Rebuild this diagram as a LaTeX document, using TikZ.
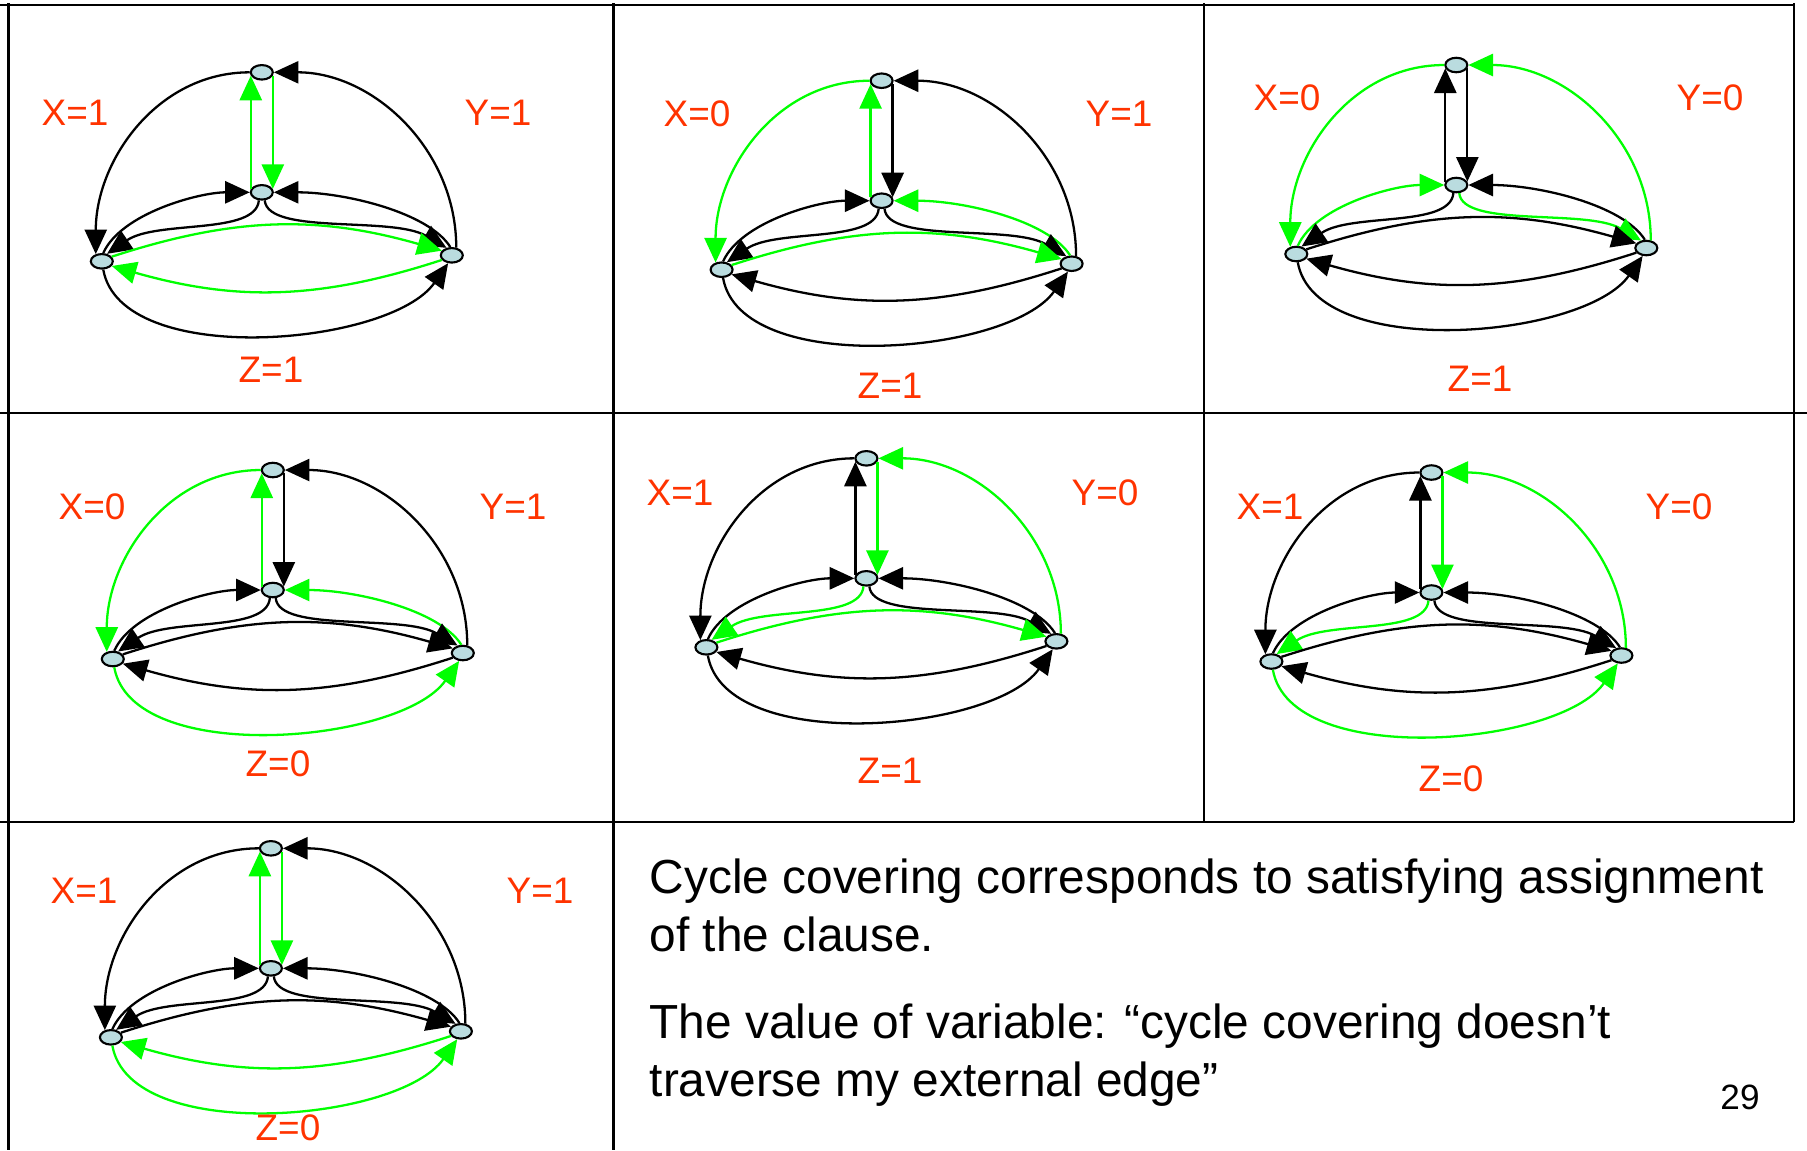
\documentclass[tikz,border=0pt]{standalone}
\usepackage{fontspec}
\setmainfont{Liberation Sans}
\usetikzlibrary{arrows.meta,shapes.geometric}
\definecolor{cover}{HTML}{00FF00}
\definecolor{vertfill}{HTML}{BADCDF}
\definecolor{valred}{HTML}{FF3300}

% every edge of the gadget is black unless a cell marks it as used
\tikzset{
  eTC/.style={}, eCT/.style={}, eTL/.style={}, eRT/.style={},
  eLC/.style={}, eCL/.style={}, eRC/.style={}, eCR/.style={},
  eLR/.style={}, eRL/.style={}, eLRz/.style={}
}

% #1 cell name, #2/#3 position of the top vertex, #4 edges of the cycle cover
\newcommand{\gadget}[4]{%
  \begin{scope}[shift={(#2,#3)}, #4]
    \node[vert] (T#1) at (0,0) {};
    \node[vert] (C#1) at (0,-120) {};
    \node[vert] (L#1) at (-160,-189) {};
    \node[vert] (R#1) at (190,-183) {};
    \draw[arrow, eTC] (T#1.-17) -- (C#1.17);
    \draw[arrow, eCT] (C#1.163) -- (T#1.-163);
    \draw[arrow, eTL] (T#1.west) to[out=180, in=90] (L#1.130);
    \draw[arrow, eRT] (R#1.60) to[out=90, in=0] (T#1.east);
    \draw[arrow, eLC] (L#1.80) .. controls +(18,40) and +(-50,0) .. (C#1.west);
    \draw[arrow, eCL] (C#1.250) .. controls +(-3,-35) and +(50,34) .. (L#1.55);
    \draw[arrow, eRC] (R#1.100) .. controls +(-22,35) and +(70,0) .. (C#1.east);
    \draw[arrow, eCR] (C#1.290) .. controls +(3,-35) and +(-55,32) .. (R#1.125);
    \draw[arrow, eLR] (L#1.25) to[bend left=17] (R#1.155);
    \draw[arrow, eRL] (R#1.205) to[bend left=17] (L#1.-25);
    \draw[arrow, eLRz] (L#1.-80) to[out=-80, in=-125, looseness=0.75] (R#1.-115);
  \end{scope}}

\begin{document}
\begin{tikzpicture}[
  x=0.01cm, y=0.01cm,
  vert/.style={ellipse, draw, fill=vertfill, line width=0.6pt, inner sep=0pt,
               minimum width=0.22cm, minimum height=0.145cm},
  arrow/.style={-{Triangle[length=7pt,width=6.3pt]}, line width=0.65pt},
  used/.style={cover},
  val/.style={text=valred, inner sep=0pt, font=\fontsize{10.5}{12}\selectfont},
  grid/.style={line width=0.7pt},
  txt/.style={anchor=base west, align=left, inner sep=0pt,
              font=\fontsize{13.6}{16.5}\selectfont}
]
\useasboundingbox (0,0) rectangle (1807,-1150);

% table lines
\draw[grid] (0,-5) -- (1794,-5);
\draw[grid] (0,-413) -- (1807,-413);
\draw[grid] (0,-822) -- (1794,-822);
\draw[grid] (8.5,-3) -- (8.5,-1150);
\draw[grid] (613.5,-3) -- (613.5,-1150);
\draw[grid] (1204,-3) -- (1204,-822);
\draw[grid] (1794,-3) -- (1794,-822);

% first row
\gadget{a}{261.8}{-72.3}{eTC/.style=used, eCT/.style=used, eLR/.style=used, eRL/.style=used}
\node[val] (xa) at (75,-113) {X=1};
\node[val] (ya) at (498,-113) {Y=1};
\node[val] (za) at (271,-370) {Z=1};

\gadget{b}{881.6}{-80.7}{eTL/.style=used, eLR/.style=used, eRC/.style=used, eCT/.style=used}
\node[val] (xb) at (697,-114) {X=0};
\node[val] (yb) at (1119,-114) {Y=1};
\node[val] (zb) at (890,-386) {Z=1};

\gadget{c}{1456.3}{-65}{eTL/.style=used, eLC/.style=used, eCR/.style=used, eRT/.style=used}
\node[val] (xc) at (1287,-98) {X=0};
\node[val] (yc) at (1710,-98) {Y=0};
\node[val] (zc) at (1480,-379) {Z=1};

% second row
\gadget{d}{272.8}{-470}{eTL/.style=used, eLRz/.style=used, eRC/.style=used, eCT/.style=used}
\node[val] (xd) at (92,-507) {X=0};
\node[val] (yd) at (513,-507) {Y=1};
\node[val] (zd) at (278,-764) {Z=0};

\gadget{e}{866.4}{-458.3}{eRT/.style=used, eTC/.style=used, eCL/.style=used, eLR/.style=used}
\node[val] (xe) at (680,-493) {X=1};
\node[val] (ye) at (1105,-493) {Y=0};
\node[val] (ze) at (890,-771) {Z=1};

\gadget{f}{1431.4}{-472.5}{eRT/.style=used, eTC/.style=used, eCL/.style=used, eLRz/.style=used}
\node[val] (xf) at (1270,-507) {X=1};
\node[val] (yf) at (1679,-507) {Y=0};
\node[val] (zf) at (1451,-779) {Z=0};

% third row
\gadget{g}{270.9}{-848.3}{eTC/.style=used, eCT/.style=used, eRL/.style=used, eLRz/.style=used}
\node[val] (xg) at (84,-891) {X=1};
\node[val] (yg) at (540,-891) {Y=1};
\node[val] (zg) at (288,-1128) {Z=0};

\node[txt] (claim) at (649,-951) {Cycle covering corresponds to satisfying assignment\\of the clause.};
\node[txt] (meaning) at (649,-1096) {The value of variable: “cycle covering doesn’t\\traverse my external edge”};
\node[inner sep=0pt, font=\fontsize{10}{12}\selectfont] (page) at (1740,-1097) {29};
\end{tikzpicture}
\end{document}
